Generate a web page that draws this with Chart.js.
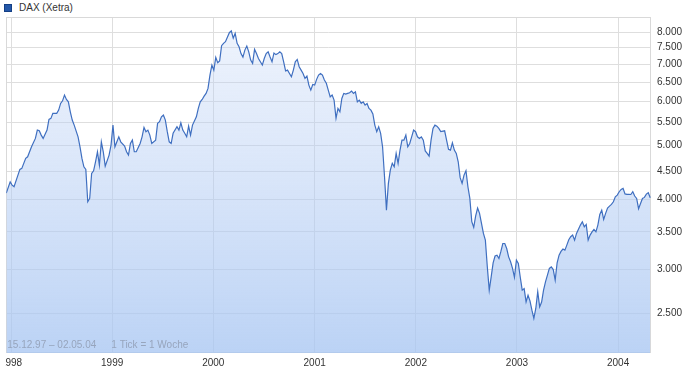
<!DOCTYPE html>
<html>
<head>
<meta charset="utf-8">
<script src="https://cdn.jsdelivr.net/npm/chart.js@4"></script>
<style>
  html, body { margin: 0; padding: 0; background: #fff; }
  body { width: 684px; height: 371px; position: relative; overflow: hidden; font-family: Arial, "Liberation Sans", sans-serif; }
  #chart { position: absolute; left: 5px; top: 0; }
  .legend { position: absolute; left: 4px; top: 2px; font-size: 10px; line-height: 12px; color: #333; white-space: nowrap; }
  .legend i { display: inline-block; width: 6px; height: 6px; background: #2457a8; border: 1px solid #143f85; margin-right: 7px; vertical-align: -1px; }
</style>
</head>
<body>
<div class="legend"><i></i>DAX (Xetra)</div>
<canvas id="chart" width="679" height="371"></canvas>
<script>
// week 0 = 15.12.97, one point per week
const startDate = Date.UTC(1997, 11, 15);

const weeks = [
  0, 2, 3, 4, 6, 7, 8, 10, 11, 13,
  15, 16, 17, 18, 19, 21, 22, 23, 24, 26,
  27, 28, 29, 30, 31, 32, 33, 34, 35, 37,
  38, 39, 40, 41, 42, 43, 44, 45, 46, 47,
  48, 49, 50, 51, 53, 54, 55, 56, 58, 59,
  61, 62, 63, 64, 65, 66, 67, 69, 70, 71,
  72, 73, 74, 75, 77, 78, 79, 80, 81, 82,
  83, 84, 85, 86, 88, 89, 90, 91, 92, 93,
  94, 95, 96, 98, 99, 100, 101, 102, 103, 104,
  105, 106, 107, 108, 109, 110, 111, 112, 113, 115,
  116, 117, 118, 119, 120, 121, 122, 123, 124, 125,
  126, 127, 128, 129, 130, 131, 132, 133, 134, 135,
  136, 137, 138, 139, 140, 141, 142, 143, 144, 145,
  146, 147, 148, 149, 150, 151, 152, 153, 154, 155,
  156, 157, 158, 159, 160, 161, 162, 163, 164, 165,
  166, 167, 168, 169, 170, 171, 172, 173, 174, 175,
  176, 177, 178, 179, 180, 181, 182, 183, 184, 185,
  186, 187, 188, 189, 190, 191, 192, 193, 194, 195,
  196, 197, 198, 199, 200, 201, 202, 203, 204, 205,
  206, 207, 208, 209, 210, 211, 212, 213, 214, 215,
  216, 217, 218, 219, 220, 221, 222, 223, 224, 226,
  227, 228, 229, 230, 231, 232, 233, 234, 235, 236,
  237, 238, 239, 240, 241, 242, 243, 244, 245, 246,
  247, 248, 249, 250, 251, 252, 253, 254, 255, 256,
  257, 258, 259, 260, 261, 262, 263, 264, 265, 266,
  267, 268, 269, 270, 271, 272, 273, 274, 275, 276,
  277, 278, 279, 280, 281, 282, 283, 284, 285, 286,
  287, 288, 289, 290, 291, 292, 293, 294, 295, 296,
  297, 298, 299, 300, 301, 302, 303, 304, 305, 306,
  307, 308, 309, 310, 311, 312, 313, 314, 315, 316,
  317, 318, 319, 320, 321, 322, 323, 324, 325, 326,
  327, 328, 329, 330, 331, 332
];

const dax = [
  4109, 4305, 4247, 4218, 4426, 4532, 4551, 4743, 4775, 4976,
  5152, 5332, 5317, 5223, 5152, 5332, 5574, 5597, 5714, 5714,
  5792, 5955, 6019, 6163, 6054, 5994, 5752, 5558, 5444, 5186,
  4976, 4743, 4581, 4532, 3963, 4019, 4457, 4506, 4677, 4875,
  4613, 5080, 4875, 4594, 4808, 5011, 5444, 4976, 5186, 5080,
  4990, 4875, 4808, 5045, 5116, 4875, 4875, 5045, 5186, 5393,
  5297, 5332, 5223, 5045, 5116, 5483, 5520, 5634, 5674, 5558,
  5297, 5080, 5045, 5262, 5406, 5332, 5497, 5332, 5262, 5186,
  5421, 5223, 5444, 5634, 5833, 5994, 6054, 6138, 6207, 6336,
  6695, 6978, 6835, 7205, 7047, 7100, 7560, 7637, 7690, 7980,
  8038, 7800, 7955, 7637, 7527, 7318, 7214, 7425, 7549, 7370,
  7124, 7028, 7446, 7318, 7172, 7074, 6978, 7172, 7318, 7370,
  7214, 7074, 7337, 7288, 7318, 7370, 7318, 7074, 6810, 6835,
  6741, 6649, 6835, 7074, 7143, 6930, 6835, 6741, 6604, 6668,
  6424, 6292, 6440, 6424, 6578, 6695, 6741, 6695, 6560, 6474,
  6292, 6120, 6163, 6037, 5600, 5833, 5752, 6079, 6207, 6189,
  6207, 6224, 6266, 6207, 6248, 5994, 6037, 5955, 5994, 5913,
  5955, 5833, 5792, 5700, 5444, 5297, 5406, 5262, 4976, 4400,
  3829, 4277, 4520, 4646, 4581, 4843, 4646, 4909, 5115, 5116,
  5223, 4976, 5045, 5186, 5334, 5297, 5186, 5152, 5186, 5116,
  4892, 4843, 4789, 5116, 5371, 5444, 5421, 5371, 5300, 5317,
  5116, 4923, 4909, 5058, 4909, 4843, 4677, 4380, 4277, 4426,
  4506, 4218, 4019, 3650, 3565, 3740, 3862, 3778, 3625, 3477,
  3382, 3030, 2750, 2905, 3079, 3167, 3178, 3135, 3228, 3335,
  3335, 3267, 3156, 3092, 3008, 2900, 3113, 3070, 2900, 2750,
  2768, 2620, 2693, 2630, 2531, 2446, 2549, 2731, 2566, 2618,
  2750, 2846, 2926, 3008, 3028, 2994, 2866, 3080, 3178, 3228,
  3260, 3245, 3313, 3387, 3430, 3453, 3382, 3477, 3537, 3599,
  3649, 3574, 3610, 3382, 3453, 3500, 3535, 3500, 3599, 3760,
  3829, 3685, 3778, 3862, 3893, 3920, 3963, 4047, 4075, 4132,
  4172, 4190, 4095, 4087, 4087, 4085, 4132, 4059, 4019, 3852,
  3936, 4019, 4036, 4092, 4115, 4030
];

const years = [1998, 1999, 2000, 2001, 2002, 2003, 2004];
const priceTicks = [2500, 3000, 3500, 4000, 4500, 5000, 5500, 6000, 6500, 7000, 7500, 8000];

// year ticks sit on 1 January, measured in weeks from the first point
const yearTicks = years.map(y => (Date.UTC(y, 0, 1) - startDate) / (7 * 864e5));

const fmt = v => String(v).replace(/\B(?=(\d{3})+$)/g, '.');

Chart.defaults.font.family = 'Arial, "Liberation Sans", sans-serif';
Chart.defaults.font.size = 10;
Chart.defaults.color = '#333';

// thin frame round the plot
const frame = {
  id: 'frame',
  beforeDatasetsDraw(chart) {
    const { ctx, chartArea: a } = chart;
    ctx.save();
    ctx.strokeStyle = '#d9d9d9';
    ctx.lineWidth = 1;
    ctx.strokeRect(Math.round(a.left) + 0.5, Math.round(a.top) + 0.5, Math.round(a.width) - 1, Math.round(a.height) - 1);
    ctx.restore();
  }
};

// date range note in the bottom left corner
const footnote = {
  id: 'footnote',
  afterDatasetsDraw(chart) {
    const { ctx, chartArea: a } = chart;
    ctx.save();
    ctx.font = '10px Arial, "Liberation Sans", sans-serif';
    ctx.fillStyle = '#97a5bd';
    ctx.textBaseline = 'middle';
    ctx.fillText('15.12.97 \u2013 02.05.04', a.left + 1, a.bottom - 8);
    ctx.fillText('1 Tick = 1 Woche', a.left + 105, a.bottom - 8);
    ctx.restore();
  }
};

const myChart = new Chart(document.getElementById('chart'), {
  type: 'line',
  data: {
    datasets: [{
      label: 'DAX (Xetra)',
      data: weeks.map((w, i) => ({ x: w, y: dax[i] })),
      borderColor: '#3f6fc0',
      borderWidth: 1.2,
      pointRadius: 0,
      tension: 0,
      fill: 'start',
      backgroundColor: ctx => {
        const { chartArea, ctx: c } = ctx.chart;
        if (!chartArea) return 'rgba(180,205,243,0.5)';
        const g = c.createLinearGradient(0, chartArea.top, 0, chartArea.bottom);
        g.addColorStop(0, 'rgba(190,210,245,0.25)');
        g.addColorStop(1, 'rgba(168,198,242,0.78)');
        return g;
      }
    }]
  },
  options: {
    responsive: false,
    devicePixelRatio: 1,
    animation: false,
    layout: { padding: { left: 1.3, top: 17, right: 0, bottom: 0 } },
    plugins: { legend: { display: false }, tooltip: { enabled: false } },
    scales: {
      x: {
        type: 'linear',
        min: 0,
        max: 332.4,
        afterBuildTicks: s => { s.ticks = yearTicks.map(v => ({ value: v })); },
        afterFit: s => { s.height = 18; s.paddingLeft = 0; s.paddingRight = 0; },
        grid: { color: '#dedede', drawTicks: false },
        border: { display: false },
        ticks: { padding: 4, maxRotation: 0, autoSkip: false, callback: (v, i) => years[i] }
      },
      y: {
        type: 'logarithmic',
        position: 'right',
        min: 2120,
        max: 8515,
        afterBuildTicks: s => { s.ticks = priceTicks.map(v => ({ value: v })); },
        afterFit: s => { s.width = 33; s.paddingTop = 0; s.paddingBottom = 0; },
        grid: { color: '#dedede', drawTicks: false },
        border: { display: false },
        ticks: { padding: 6, callback: v => fmt(v) }
      }
    }
  },
  plugins: [frame, footnote]
});
</script>
</body>
</html>
